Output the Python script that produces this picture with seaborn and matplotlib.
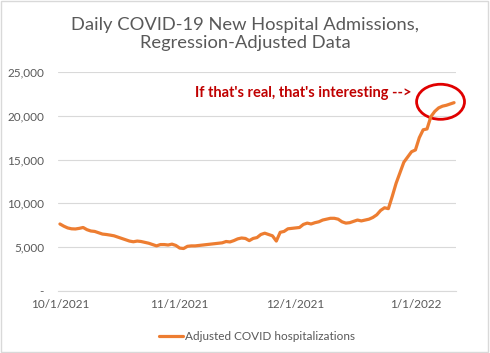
import numpy as np
import pandas as pd
import matplotlib
matplotlib.use("Agg")
import matplotlib.pyplot as plt
import matplotlib.dates as mdates
from matplotlib.patches import Ellipse
from matplotlib.ticker import FuncFormatter
import seaborn as sns

# daily values, starting 10/1/2021
start_date = "2021-10-01"
hospitalizations = [
    7650, 7400, 7200, 7100, 7080, 7150, 7250, 7000, 6850, 6800,
    6650, 6500, 6450, 6380, 6300, 6150, 6000, 5850, 5700, 5620,
    5700, 5650, 5550, 5450, 5300, 5150, 5300, 5300, 5250, 5350,
    5200, 4900, 4850, 5100, 5150, 5150, 5200, 5250, 5300, 5350,
    5400, 5450, 5500, 5650, 5600, 5750, 5950, 6050, 6000, 5750,
    6000, 6100, 6450, 6600, 6450, 6300, 5700, 6700, 6800, 7100,
    7150, 7200, 7250, 7600, 7750, 7650, 7800, 7900, 8100, 8200,
    8300, 8300, 8200, 7900, 7750, 7800, 7950, 8100, 8000, 8100,
    8200, 8400, 8700, 9200, 9500, 9400, 10800, 12300, 13500, 14700,
    15300, 15900, 16100, 17500, 18400, 18500, 19900, 20500, 20900, 21100,
    21200, 21350, 21500,
]
tick_dates = ["2021-10-01", "2021-11-01", "2021-12-01", "2022-01-01"]
y_ticks = [0, 5000, 10000, 15000, 20000, 25000]
series_name = "Adjusted COVID hospitalizations"
title = "Daily COVID-19 New Hospital Admissions,\nRegression-Adjusted Data"
note = "If that's real, that's interesting -->"

df = pd.DataFrame({
    "date": pd.date_range(start_date, periods=len(hospitalizations), freq="D"),
    series_name: hospitalizations,
})

sns.set_style("white")
plt.rcParams["font.family"] = ["Lato", "DejaVu Sans"]
grey = "#595959"

fig = plt.figure(figsize=(4.9, 3.53), dpi=100)
ax = fig.add_axes([58 / 490, 1 - 291 / 353, 398 / 490, 219 / 353])

sns.lineplot(data=df, x="date", y=series_name, ax=ax, color="#ED7D31",
             linewidth=2.3, label=series_name)

ax.set_ylim(0, 25000)
ax.set_yticks(y_ticks)
ax.yaxis.set_major_formatter(FuncFormatter(lambda v, p: "-" if v == 0 else f"{int(v):,}"))
ax.set_xlim(df["date"].iloc[0] - pd.Timedelta(hours=12),
            df["date"].iloc[-1] + pd.Timedelta(hours=12))
ax.set_xticks(pd.to_datetime(tick_dates))
ax.xaxis.set_major_formatter(FuncFormatter(
    lambda v, p: (lambda d: f"{d.month}/{d.day}/{d.year}")(mdates.num2date(v))))
ax.grid(axis="y", color="#d9d9d9", linewidth=0.8)
ax.set_axisbelow(True)
for s in ["top", "right", "left"]:
    ax.spines[s].set_visible(False)
ax.spines["bottom"].set_color("#d9d9d9")
ax.tick_params(axis="both", length=0, labelsize=8.5, labelcolor=grey, pad=6)
ax.tick_params(axis="y", pad=10)
ax.set_xlabel("")
ax.set_ylabel("")

ax.legend(loc="upper center", bbox_to_anchor=(0.5, -0.135), frameon=False,
          fontsize=8.5, labelcolor=grey, handlelength=2.0, handletextpad=0.15)

fig.text(0.5, 1 - 34 / 353, title, ha="center", va="center", fontsize=13.2,
         color=grey, linespacing=1.2)

# annotation near the last points
last = df["date"].iloc[-1]
ax.text(last - pd.Timedelta(days=11), 22600, note, ha="right", va="center",
        color="#C00000", fontsize=10.5, fontweight="bold")
ax.add_patch(Ellipse((mdates.date2num(last - pd.Timedelta(days=3.5)), 21600),
                     width=12.4, height=4000, fill=False, edgecolor="#E00000",
                     linewidth=2, clip_on=False))

fig.patches.append(plt.Rectangle((0.002, 0.004), 0.994, 0.992, transform=fig.transFigure,
                                 fill=False, edgecolor="#d9d9d9", linewidth=1))

fig.savefig("out.png", dpi=100)
